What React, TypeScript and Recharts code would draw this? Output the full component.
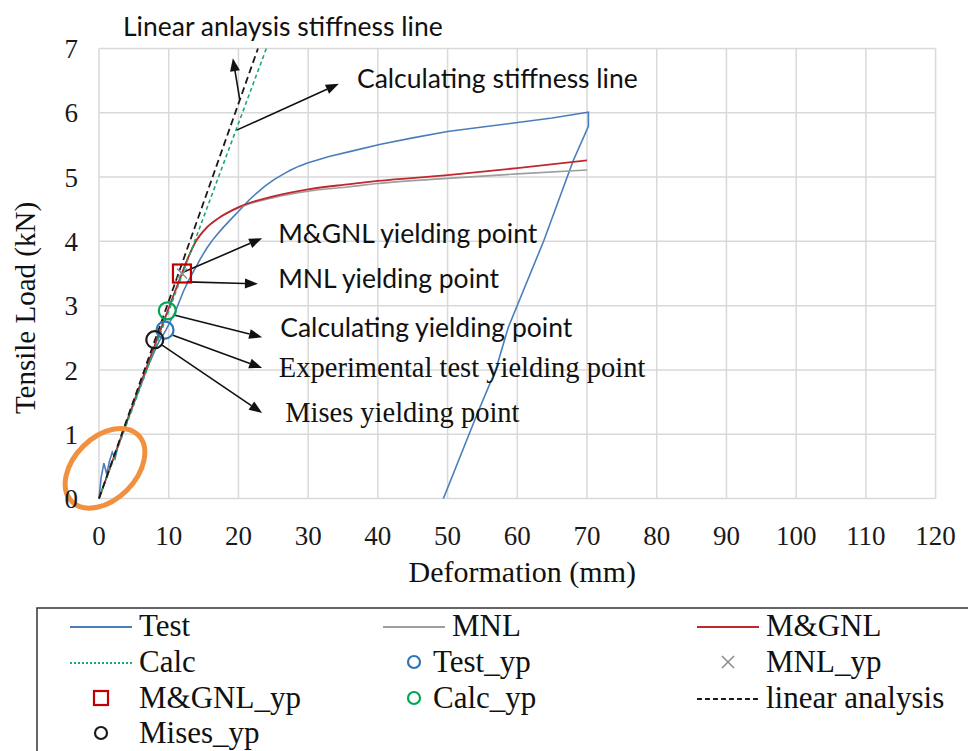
import {
  CartesianGrid,
  ComposedChart,
  Label,
  Line,
  ReferenceDot,
  ReferenceLine,
  Scatter,
  XAxis,
  YAxis,
} from "recharts";

const SERIF = '"Liberation Serif", "Times New Roman", serif';
const SANS = 'Lato, Carlito, Calibri, "Open Sans", sans-serif';

// axis ticks
const xTicks = [0, 10, 20, 30, 40, 50, 60, 70, 80, 90, 100, 110, 120];
const yTicks = [0, 1, 2, 3, 4, 5, 6, 7];

// Test curve (loading then unloading)
const testX = [
  0, 0.3, 0.7, 1.1, 1.5, 1.9, 2.3, 2.8, 3.4, 5.0, 7.0, 8.5, 9.6, 11.0, 12.1, 12.8, 13.5, 14.6,
  15.5, 16.5, 17.6, 18.8, 20.3, 21.5, 22.5, 23.8, 25.1, 26.5, 27.5, 28.7, 29.9, 33.0, 36.1,
  40.4, 45.0, 50.0, 55.0, 59.5, 65.0, 69.0, 70.2, 70.2, 68.0, 63.8, 58.7, 56.9, 54.3, 49.4,
];
const testY = [
  0, 0.32, 0.55, 0.38, 0.58, 0.72, 0.62, 0.85, 1.02, 1.48, 2.05, 2.42, 2.62, 2.92, 3.22, 3.38,
  3.52, 3.74, 3.9, 4.05, 4.19, 4.33, 4.5, 4.64, 4.74, 4.86, 4.96, 5.05, 5.11, 5.17, 5.22, 5.32,
  5.4, 5.51, 5.61, 5.71, 5.78, 5.84, 5.92, 5.99, 6.01, 5.79, 5.25, 4.01, 2.66, 2.0, 1.33, 0,
];

// MNL
const mnlX = [0, 11.9, 12.8, 13.9, 15.5, 17.0, 20.2, 25.0, 30.0, 36.0, 40.0, 50.0, 60.0, 70.0];
const mnlY = [0, 3.5, 3.75, 4.0, 4.22, 4.35, 4.53, 4.68, 4.78, 4.85, 4.9, 4.98, 5.05, 5.11];

// M&GNL
const mgnlX = [0, 11.9, 12.8, 13.9, 15.5, 17.0, 20.2, 25.0, 30.0, 36.0, 40.0, 50.0, 60.0, 70.0];
const mgnlY = [0, 3.5, 3.75, 4.0, 4.22, 4.35, 4.54, 4.7, 4.81, 4.89, 4.94, 5.03, 5.14, 5.26];

// stiffness lines
const calcX = [0, 24.0];
const calcY = [0, 7];
const linearX = [0, 22.8];
const linearY = [0, 7];

// yielding points
const testYpX = [9.47];
const testYpY = [2.62];
const calcYpX = [9.8];
const calcYpY = [2.92];
const misesYpX = [8.0];
const misesYpY = [2.47];
const mgnlYpX = [11.9];
const mgnlYpY = [3.5];
const mnlYpX = [11.9];
const mnlYpY = [3.5];

// annotations: text, text anchor (start/baseline), arrow tail and tip
const noteText = [
  "Linear anlaysis stiffness line",
  "Calculating stiffness line",
  "M&GNL yielding point",
  "MNL yielding point",
  "Calculating yielding point",
  "Experimental test yielding point",
  "Mises yielding point",
];
const noteX = [3.44, 37.0, 25.7, 25.7, 26.0, 25.8, 26.7];
const noteY = [7.19, 6.38, 3.97, 3.27, 2.51, 1.89, 1.19];
const noteSerif = [false, false, false, false, false, true, true];
const arrowFromX = [20.2, 19.75, 11.9, 12.6, 10.9, 10.6, 9.0];
const arrowFromY = [6.2, 5.73, 3.51, 3.37, 2.85, 2.54, 2.39];
const arrowToX = [19.2, 34.4, 23.4, 22.8, 23.4, 23.4, 23.4];
const arrowToY = [6.85, 6.45, 4.05, 3.34, 2.51, 2.03, 1.33];

// highlighted region near origin
const ringX = 0.86;
const ringY = 0.47;

const pts = (xs: number[], ys: number[]) => xs.map((x, i) => ({ x, y: ys[i] }));

const C = {
  test: "#4A7EBB",
  mnl: "#9E9E9E",
  mgnl: "#C1272D",
  calc: "#1BAA6E",
  linear: "#1A1A1A",
  testYp: "#2E75B6",
  calcYp: "#00A650",
  mgnlYp: "#C00000",
  mnlYp: "#8C8C8C",
  mises: "#1A1A1A",
  ring: "#F0913F",
  grid: "#D9D9D9",
};

const circleShape = (color: string) => (p: any) => (
  <circle cx={p.cx} cy={p.cy} r={8.5} fill="none" stroke={color} strokeWidth={2.2} />
);
const squareShape = (color: string) => (p: any) => (
  <rect x={p.cx - 9} y={p.cy - 9} width={18} height={18} fill="none" stroke={color} strokeWidth={2.2} />
);
const crossShape = (color: string) => (p: any) => (
  <g stroke={color} strokeWidth={1.5}>
    <line x1={p.cx - 5} y1={p.cy - 5} x2={p.cx + 5} y2={p.cy + 5} />
    <line x1={p.cx - 5} y1={p.cy + 5} x2={p.cx + 5} y2={p.cy - 5} />
  </g>
);

function arrowShape(p: any) {
  const { x1, y1, x2, y2 } = p;
  const a = Math.atan2(y2 - y1, x2 - x1);
  const len = 13;
  const w = 5;
  const bx = x2 - len * Math.cos(a);
  const by = y2 - len * Math.sin(a);
  const l = `${bx - w * Math.sin(a)},${by + w * Math.cos(a)}`;
  const r = `${bx + w * Math.sin(a)},${by - w * Math.cos(a)}`;
  return (
    <g>
      <line x1={x1} y1={y1} x2={bx} y2={by} stroke="#111" strokeWidth={1.6} />
      <polygon points={`${x2},${y2} ${l} ${r}`} fill="#111" />
    </g>
  );
}

const textShape = (text: string, serif: boolean) => (p: any) => (
  <text
    x={p.cx}
    y={p.cy}
    fontFamily={serif ? SERIF : SANS}
    fontSize={serif ? 28.5 : 26.5}
    fill="#111"
  >
    {text}
  </text>
);

const ringShape = (p: any) => (
  <ellipse
    cx={p.cx}
    cy={p.cy}
    rx={47}
    ry={31}
    transform={`rotate(-45 ${p.cx} ${p.cy})`}
    fill="none"
    stroke={C.ring}
    strokeWidth={5}
  />
);

const xTitle = (p: any) => {
  const vb = p.viewBox;
  return (
    <text x={vb.x + vb.width / 2 + 5} y={582} textAnchor="middle" fontFamily={SERIF} fontSize={30} fill="#111">
      Deformation (mm)
    </text>
  );
};
const yTitle = (p: any) => {
  const vb = p.viewBox;
  const cx = vb.x + 25;
  const cy = 308;
  return (
    <text
      x={cx}
      y={cy}
      transform={`rotate(-90 ${cx} ${cy})`}
      textAnchor="middle"
      dominantBaseline="central"
      fontFamily={SERIF}
      fontSize={29}
      fill="#111"
    >
      Tensile Load (kN)
    </text>
  );
};

// legend layout
const legendItems = [
  { name: "Test", kind: "line", color: C.test, dash: "" },
  { name: "MNL", kind: "line", color: C.mnl, dash: "" },
  { name: "M&GNL", kind: "line", color: C.mgnl, dash: "" },
  { name: "Calc", kind: "line", color: C.calc, dash: "2 2" },
  { name: "Test_yp", kind: "circle", color: C.testYp, dash: "" },
  { name: "MNL_yp", kind: "cross", color: C.mnlYp, dash: "" },
  { name: "M&GNL_yp", kind: "square", color: C.mgnlYp, dash: "" },
  { name: "Calc_yp", kind: "circle", color: C.calcYp, dash: "" },
  { name: "linear analysis", kind: "line", color: C.linear, dash: "5 3" },
  { name: "Mises_yp", kind: "circle", color: C.mises, dash: "" },
];
const legendCols = [70, 383, 697];
const legendBase = [36, 72, 108, 143];

function LegendBox() {
  return (
    <svg width={968} height={151} style={{ position: "absolute", left: 0, top: 600 }}>
      <rect x={37} y={8} width={1000} height={200} fill="none" stroke="#333" strokeWidth={1.5} />
      {legendItems.map((it, i) => {
        const col = i % 3;
        const row = Math.floor(i / 3);
        const x0 = legendCols[col];
        const base = legendBase[row];
        const cy = base - 10;
        const cx = x0 + 31;
        const tx = it.kind !== "line" && col === 1 ? x0 + 50 : x0 + 69;
        let icon = null;
        if (it.kind === "line") {
          icon = (
            <line x1={x0} y1={cy + 1} x2={x0 + 62} y2={cy + 1} stroke={it.color} strokeWidth={2} strokeDasharray={it.dash || undefined} />
          );
        } else if (it.kind === "circle") {
          icon = <circle cx={cx} cy={cy} r={6} fill="none" stroke={it.color} strokeWidth={2.2} />;
        } else if (it.kind === "square") {
          icon = <rect x={cx - 7} y={cy - 7} width={14} height={14} fill="none" stroke={it.color} strokeWidth={2.2} />;
        } else {
          icon = (
            <g stroke={it.color} strokeWidth={1.6}>
              <line x1={cx - 6} y1={cy - 6} x2={cx + 6} y2={cy + 6} />
              <line x1={cx - 6} y1={cy + 6} x2={cx + 6} y2={cy - 6} />
            </g>
          );
        }
        return (
          <g key={it.name}>
            {icon}
            <text x={tx} y={base} fontFamily={SERIF} fontSize={31} fill="#111">
              {it.name}
            </text>
          </g>
        );
      })}
    </svg>
  );
}

const tickStyle = { fontFamily: SERIF, fontSize: 27, fill: "#1a1a1a" };

export default function App() {
  return (
    <div
      style={{
        position: "absolute",
        left: 0,
        top: 0,
        width: 968,
        height: 751,
        overflow: "hidden",
        background: "#fff",
      }}
    >
      <ComposedChart
        width={968}
        height={600}
        margin={{ top: 48.5, right: 32.4, bottom: 11.5, left: 0 }}
        style={{ position: "absolute", left: 0, top: 0 }}
      >
        <CartesianGrid stroke={C.grid} strokeWidth={1.5} />
        <XAxis
          dataKey="x"
          type="number"
          domain={[0, 120]}
          ticks={xTicks}
          interval={0}
          axisLine={false}
          tickLine={false}
          tickSize={0}
          tickMargin={27}
          height={90}
          tick={tickStyle}
        >
          <Label content={xTitle} />
        </XAxis>
        <YAxis
          dataKey="y"
          type="number"
          domain={[0, 7]}
          ticks={yTicks}
          interval={0}
          axisLine={false}
          tickLine={false}
          tickSize={0}
          tickMargin={21}
          width={99}
          tick={tickStyle}
        >
          <Label content={yTitle} />
        </YAxis>

        <Line data={pts(testX, testY)} dataKey="y" type="linear" stroke={C.test} strokeWidth={1.6} dot={false} activeDot={false} isAnimationActive={false} />
        <Line data={pts(mnlX, mnlY)} dataKey="y" type="monotone" stroke={C.mnl} strokeWidth={1.6} dot={false} activeDot={false} isAnimationActive={false} />
        <Line data={pts(mgnlX, mgnlY)} dataKey="y" type="monotone" stroke={C.mgnl} strokeWidth={1.8} dot={false} activeDot={false} isAnimationActive={false} />
        <Line data={pts(calcX, calcY)} dataKey="y" type="linear" stroke={C.calc} strokeWidth={1.6} strokeDasharray="4 3" dot={false} activeDot={false} isAnimationActive={false} />
        <Line data={pts(linearX, linearY)} dataKey="y" type="linear" stroke={C.linear} strokeWidth={1.8} strokeDasharray="7 4" dot={false} activeDot={false} isAnimationActive={false} />

        <Scatter data={pts(mnlYpX, mnlYpY)} dataKey="y" shape={crossShape(C.mnlYp)} isAnimationActive={false} />
        <Scatter data={pts(mgnlYpX, mgnlYpY)} dataKey="y" shape={squareShape(C.mgnlYp)} isAnimationActive={false} />
        <Scatter data={pts(calcYpX, calcYpY)} dataKey="y" shape={circleShape(C.calcYp)} isAnimationActive={false} />
        <Scatter data={pts(testYpX, testYpY)} dataKey="y" shape={circleShape(C.testYp)} isAnimationActive={false} />
        <Scatter data={pts(misesYpX, misesYpY)} dataKey="y" shape={circleShape(C.mises)} isAnimationActive={false} />

        {noteText.map((t, i) => (
          <ReferenceLine
            key={`arrow-${t}`}
            segment={[
              { x: arrowFromX[i], y: arrowFromY[i] },
              { x: arrowToX[i], y: arrowToY[i] },
            ]}
            ifOverflow="visible"
            shape={arrowShape}
          />
        ))}
        {noteText.map((t, i) => (
          <ReferenceDot
            key={`note-${t}`}
            x={noteX[i]}
            y={noteY[i]}
            ifOverflow="visible"
            shape={textShape(t, noteSerif[i])}
          />
        ))}
        <ReferenceDot x={ringX} y={ringY} ifOverflow="visible" shape={ringShape} />
      </ComposedChart>
      <LegendBox />
    </div>
  );
}
